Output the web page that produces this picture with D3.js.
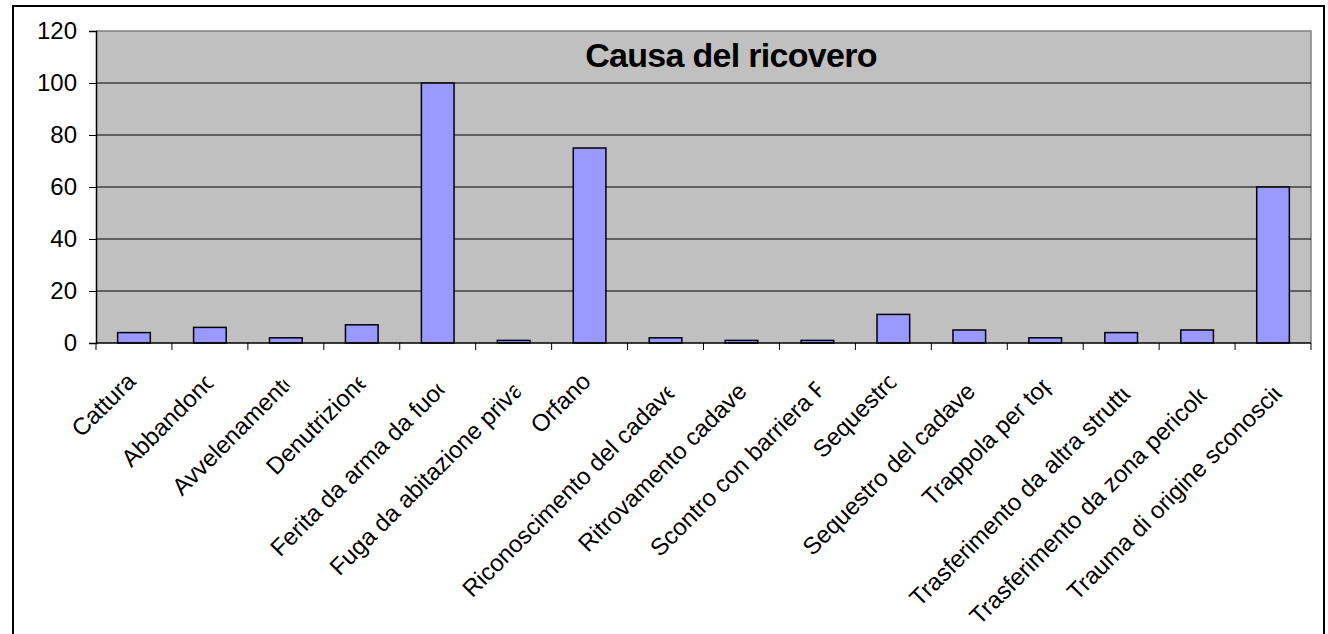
<!DOCTYPE html>
<html><head><meta charset="utf-8">
<script src="https://cdn.jsdelivr.net/npm/d3@7"></script>
<style>body{margin:0;background:#fff}svg{display:block}text{font-family:"Liberation Sans",Arial,sans-serif}</style>
</head><body>
<script>
const categories = ["Cattura","Abbandono","Avvelenamento","Denutrizione","Ferita da arma da fuoco","Fuga da abitazione privata","Orfano","Riconoscimento del cadavere","Ritrovamento cadavere","Scontro con barriera FS","Sequestro","Sequestro del cadavere","Trappola per topi","Trasferimento da altra struttura","Trasferimento da zona pericolosa","Trauma di origine sconosciuta"];
const values = [4,6,2,7,100,1,75,2,1,1,11,5,2,4,5,60];
const yTicks = [0,20,40,60,80,100,120];
const title = "Causa del ricovero";

const W = 1328, H = 634;
const svg = d3.select("body").append("svg").attr("width", W).attr("height", H);
const L = 96, R = 1311, T = 31, B = 343;

svg.append("rect").attr("x",13).attr("y",6).attr("width",1311).attr("height",700)
  .attr("fill","#fff").attr("stroke","#000").attr("stroke-width",2);

const x = d3.scaleBand().domain(categories).range([L,R]).paddingInner(0).paddingOuter(0);
const y = d3.scaleLinear().domain([0,120]).range([B,T]);

svg.append("rect").attr("x",L).attr("y",T).attr("width",R-L).attr("height",B-T).attr("fill","#C0C0C0");
svg.append("path").attr("d",`M${L},${T}H${R}V${B}`).attr("fill","none").attr("stroke","#808080").attr("stroke-width",1.5);

// gridlines
svg.append("g").selectAll("line").data(yTicks.filter(d=>d>0 && d<120)).join("line")
  .attr("x1",L).attr("x2",R).attr("y1",d=>y(d)).attr("y2",d=>y(d))
  .attr("stroke","#000").attr("stroke-width",1);

// title
svg.append("text").attr("x",731).attr("y",67).attr("text-anchor","middle")
  .attr("font-size",34).attr("font-weight","bold").attr("letter-spacing",-0.7).text(title);

// bars
const bw = x.bandwidth()*0.43;
svg.append("g").selectAll("rect").data(values).join("rect")
  .attr("x",(d,i)=>x(categories[i])+x.bandwidth()/2-bw/2)
  .attr("y",d=>y(d)).attr("width",bw).attr("height",d=>B-y(d))
  .attr("fill","#9999FF").attr("stroke","#000").attr("stroke-width",1.5);

// y axis
const ya = svg.append("g").attr("transform",`translate(${L},0)`)
  .call(d3.axisLeft(y).tickValues(yTicks).tickSize(7).tickPadding(12));
ya.select(".domain").attr("stroke","#000").attr("stroke-width",1.5);
ya.selectAll(".tick line").attr("stroke","#000");
ya.selectAll("text").attr("font-size",24).attr("fill","#000").attr("font-family","Liberation Sans, Arial, sans-serif");

// x axis line + ticks at band boundaries
svg.append("line").attr("x1",L).attr("x2",R).attr("y1",B).attr("y2",B).attr("stroke","#000").attr("stroke-width",1.5);
const bounds = categories.map(c=>x(c)).concat([R]);
svg.append("g").selectAll("line").data(bounds).join("line")
  .attr("x1",d=>d).attr("x2",d=>d).attr("y1",B).attr("y2",B+7).attr("stroke","#000");

// x labels: rotated -45°, truncated at their end like the original
const defs = svg.append("defs");
const fs = 24;
categories.forEach((c,i)=>{
  const cx = x(c)+x.bandwidth()/2;
  const outer = svg.append("g");
  const clipRect = defs.append("clipPath").attr("id","clip"+i).append("rect");
  const inner = outer.append("g").attr("clip-path",`url(#clip${i})`);
  const t = inner.append("text").attr("font-size",fs).attr("fill","#000").text(c);
  const len = t.node().getComputedTextLength();
  const vis = Math.min(len + 2, 0.883*len + 0.374*fs);
  clipRect.attr("x",-10).attr("y",-60).attr("width",vis+10).attr("height",120);
  const sx = cx - 5.4 - 0.597*len, sy = B + 42 + 0.678*len;
  outer.attr("transform",`translate(${sx},${sy}) rotate(-45)`);
});
</script>
</body></html>
